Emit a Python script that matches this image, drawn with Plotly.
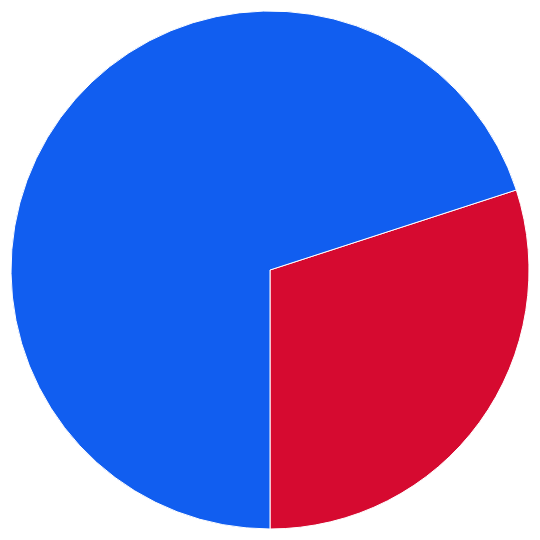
import plotly.graph_objects as go

labels = ["Red", "Blue"]
values = [30, 70]
colors = ["#D60A30", "#115EF0"]

fig = go.Figure(go.Pie(
    labels=labels,
    values=values,
    marker=dict(colors=colors, line=dict(color="white", width=1)),
    sort=False,
    direction="clockwise",
    rotation=72,
    textinfo="none",
    hoverinfo="label+percent",
))
fig.update_layout(
    width=540, height=540,
    margin=dict(l=3, r=19, t=3, b=19),
    showlegend=False,
    paper_bgcolor="white",
    plot_bgcolor="white",
)
fig.write_html("out.html")
